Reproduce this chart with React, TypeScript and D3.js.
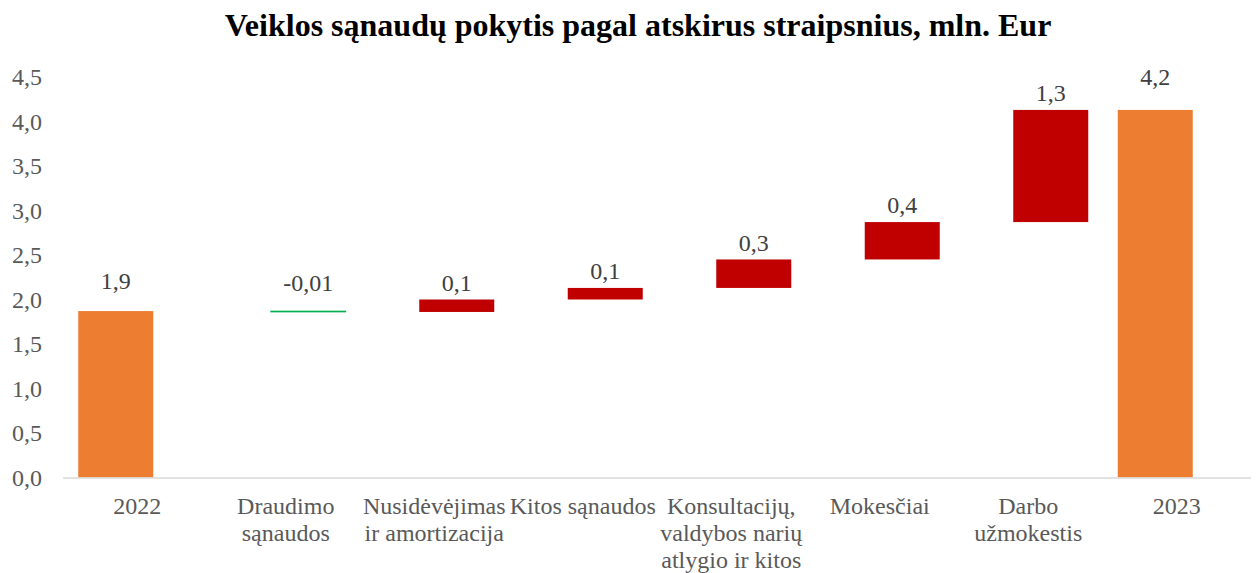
import React from "react";
import * as d3 from "d3";

const categories = [
  "2022",
  "Draudimo\nsąnaudos",
  "Nusidėvėjimas\nir amortizacija",
  "Kitos sąnaudos",
  "Konsultacijų,\nvaldybos narių\natlygio ir kitos",
  "Mokesčiai",
  "Darbo\nužmokestis",
  "2023",
];
const kinds = ["total", "change", "change", "change", "change", "change", "change", "total"];
const values = [1.87, -0.01, 0.14, 0.13, 0.32, 0.42, 1.26, 4.13];
const valueLabels = ["1,9", "-0,01", "0,1", "0,1", "0,3", "0,4", "1,3", "4,2"];
const yTicks = [0, 0.5, 1, 1.5, 2, 2.5, 3, 3.5, 4, 4.5];
const title = "Veiklos sąnaudų pokytis pagal atskirus straipsnius, mln. Eur";

const W = 1256;
const H = 573;
const M = { left: 63, right: 5, top: 77, bottom: 95.5 };
const FONT = "Liberation Serif, Times New Roman, serif";

export default function App() {
  const x = d3
    .scaleBand<string>()
    .domain(categories)
    .range([M.left, W - M.right])
    .paddingInner(0)
    .paddingOuter(0);
  const y = d3.scaleLinear().domain([0, 4.5]).range([H - M.bottom, M.top]);
  const barW = 75;
  const offset = { total: -21.5, change: 22.5 };

  let running = 0;
  const bars = categories.map((c, i) => {
    const k = kinds[i];
    const v = values[i];
    let lo: number, hi: number;
    if (k === "total") {
      lo = 0;
      hi = v;
      running = v;
    } else {
      const next = running + v;
      lo = Math.min(running, next);
      hi = Math.max(running, next);
      running = next;
    }
    const color = k === "total" ? "#ED7D31" : v < 0 ? "#00B050" : "#C00000";
    const cx = (x(c) as number) + x.bandwidth() / 2;
    const bx = cx + (offset as any)[k];
    return { c, i, k, v, lo, hi, color, cx, bx };
  });

  const fmt = (t: number) => d3.format(".1f")(t).replace(".", ",");

  return (
    <svg
      width={W}
      height={H}
      style={{ position: "absolute", left: 0, top: 0, background: "#fff", fontFamily: FONT }}
    >
      <rect width={W} height={H} fill="#fff" />
      <text x={638} y={36} textAnchor="middle" fontSize={32} fontWeight="bold" fill="#000">
        {title}
      </text>
      {yTicks.map((t) => (
        <text key={t} x={42} y={y(t)} dy="0.35em" textAnchor="end" fontSize={24} fill="#595959">
          {fmt(t)}
        </text>
      ))}
      {bars.map((b) => {
        const top = y(b.hi);
        const h = Math.max(y(b.lo) - y(b.hi), 0);
        return (
          <g key={b.c}>
            <rect
              x={b.bx - barW / 2}
              y={top}
              width={barW}
              height={h}
              fill={b.color}
              stroke={b.v < 0 ? b.color : "none"}
              strokeWidth={b.v < 0 ? 0.8 : 0}
            />
            <text
              x={b.bx}
              y={top - (b.k === "total" ? (b.i === 0 ? 30 : 33) : b.v < 0 ? 28 : 17)}
              dy="0.35em"
              textAnchor="middle"
              fontSize={24}
              fill="#404040"
            >
              {valueLabels[b.i]}
            </text>
          </g>
        );
      })}
      <line
        x1={M.left}
        x2={W - M.right}
        y1={y(0) + 0.5}
        y2={y(0) + 0.5}
        stroke="#D9D9D9"
        strokeWidth={1.5}
      />
      {bars.map((b) => (
        <text key={"l" + b.c} textAnchor="middle" fontSize={24} fill="#595959">
          {b.c.split("\n").map((line, j) => (
            <tspan key={j} x={b.cx} y={514 + j * 27}>
              {line}
            </tspan>
          ))}
        </text>
      ))}
    </svg>
  );
}
